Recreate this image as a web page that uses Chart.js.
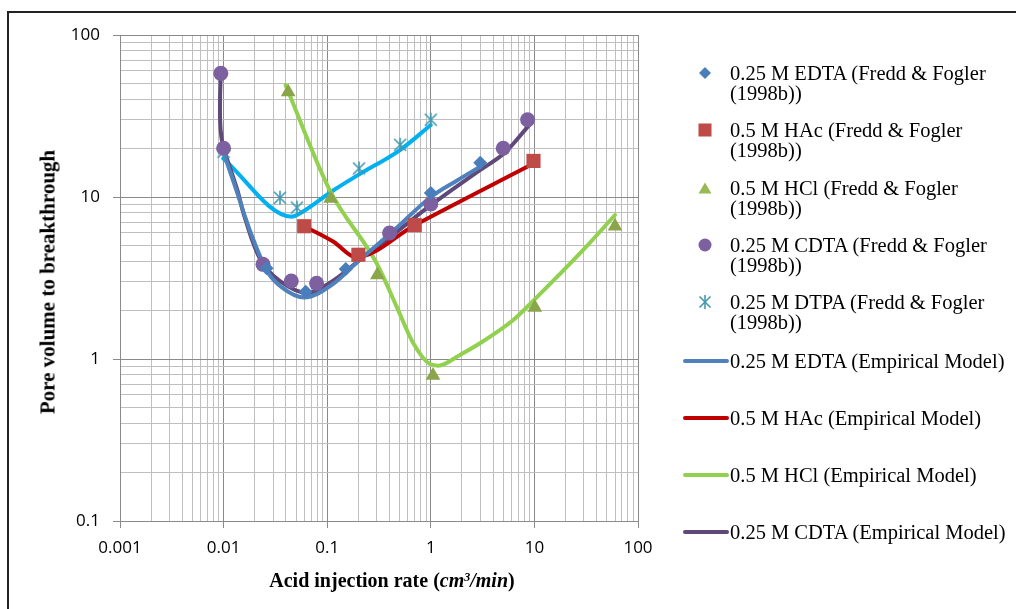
<!DOCTYPE html>
<html>
<head>
<meta charset="utf-8">
<script src="https://cdn.jsdelivr.net/npm/chart.js@4.4.0/dist/chart.umd.min.js"></script>
<style>
  body { margin: 0; background: #fff; }
  #wrap { position: relative; width: 1016px; height: 609px; overflow: hidden; background: #fff; }
  #frame { position: absolute; left: 7px; top: 11px; width: 1100px; height: 700px; border: 2px solid #222; }
  canvas { position: absolute; left: 0; top: 0; }
  .ttl { position: absolute; font-family: "Liberation Serif", "Times New Roman", serif; font-weight: bold; white-space: nowrap; color: #000; }
  #ytitle { left: 48px; top: 282px; font-size: 21px; transform: translate(-50%, -50%) rotate(-90deg); }
  #xtitle { left: 392px; top: 580px; font-size: 20px; transform: translate(-50%, -50%); }
  #xtitle sup { font-size: 0.6em; vertical-align: baseline; position: relative; top: -0.5em; }
  .leg { position: absolute; left: 730px; font-family: "Liberation Serif", "Times New Roman", serif; font-size: 20.5px; line-height: 20px; white-space: pre; color: #000; }
  .mk { position: absolute; }
</style>
</head>
<body>
<div id="wrap">
  <div id="frame"></div>
  <canvas id="chart" width="1016" height="609"></canvas>
  <div class="ttl" id="ytitle">Pore volume to breakthrough</div>
  <div class="ttl" id="xtitle">Acid injection rate (<i>cm<sup>3</sup>/min</i>)</div>
  <div id="legend"></div>
</div>
<script>
// tick labels (decades)
const xTickLabels = ["0.001", "0.01", "0.1", "1", "10", "100"];
const yTickLabels = ["0.1", "1", "10", "100"];

// experimental points, Fredd & Fogler (1998b)
const edtaX = [0.026, 0.062, 0.151, 1.0, 3.0];
const edtaY = [3.63, 2.6, 3.6, 10.6, 16.3];
const hacX = [0.06, 0.2, 0.7, 9.8];
const hacY = [6.6, 4.4, 6.7, 16.7];
const hclX = [0.042, 0.108, 0.305, 1.05, 10.1, 60];
const hclY = [44.5, 9.8, 3.3, 0.79, 2.08, 6.6];
const cdtaX = [0.0094, 0.01, 0.024, 0.045, 0.079, 0.40, 1.0, 5.0, 8.6];
const cdtaY = [58, 20, 3.84, 3.03, 2.93, 6.0, 9.05, 20, 30];
const dtpaX = [0.01, 0.035, 0.051, 0.203, 0.506, 1.0];
const dtpaY = [19, 9.9, 8.6, 15, 21, 30];

// empirical model curves
const edtaModelX = [0.0099, 0.0126, 0.0183, 0.0265, 0.036, 0.06, 0.116, 0.182, 0.443, 1.0, 1.81, 3.0];
const edtaModelY = [19, 12.2, 6.0, 3.46, 2.79, 2.4, 2.93, 3.8, 6.25, 10.0, 12.7, 15.4];
const hacModelX = [0.06, 0.115, 0.19, 0.7, 9.8];
const hacModelY = [6.6, 5.3, 4.25, 6.7, 16.1];
const hclModelX = [0.0397, 0.106, 0.30, 0.469, 0.678, 0.98, 1.18, 1.91, 2.98, 6.25, 9.9, 29.6, 60];
const hclModelY = [49, 11.0, 3.9, 2.1, 1.25, 0.93, 0.91, 1.06, 1.25, 1.74, 2.31, 4.71, 7.74];
const cdtaModelX = [0.0094, 0.00925, 0.00925, 0.0095, 0.01, 0.0136, 0.0159, 0.0228, 0.0356, 0.0645, 0.116, 0.245, 0.41, 1.0, 2.82, 5.1, 9.2];
const cdtaModelY = [58, 41.6, 30, 23.6, 20, 11.0, 7.56, 4.08, 3.0, 2.55, 3.07, 4.49, 5.7, 8.9, 14.3, 18.6, 28.5];
const dtpaModelX = [0.0099, 0.0454, 0.0549, 0.115, 0.2, 0.504, 1.0];
const dtpaModelY = [17.3, 7.56, 7.94, 11.0, 13.7, 19.5, 27.8];

const seriesNames = [
  "0.25 M EDTA (Fredd & Fogler\n(1998b))",
  "0.5 M HAc (Fredd & Fogler\n(1998b))",
  "0.5 M HCl (Fredd & Fogler\n(1998b))",
  "0.25 M CDTA (Fredd & Fogler\n(1998b))",
  "0.25 M DTPA (Fredd & Fogler\n(1998b))",
  "0.25 M EDTA (Empirical Model)",
  "0.5 M HAc (Empirical Model)",
  "0.5 M HCl (Empirical Model)",
  "0.25 M CDTA (Empirical Model)"
];

const pts = (xs, ys) => xs.map((x, i) => ({ x, y: ys[i] }));
const isDecade = v => Math.abs(Math.log10(v) - Math.round(Math.log10(v))) < 1e-6;
const labelFor = (v, labels) => labels.find(l => Math.abs(Number(l) - v) < 1e-9 * Math.max(1, v)) || "";

// 1..9 per decade for grid lines
function logGrid(labels) {
  const out = [];
  labels.map(Number).forEach((d, i, arr) => {
    if (i === arr.length - 1) { out.push(d); return; }
    for (let m = 1; m <= 9; m++) out.push(+(d * m).toPrecision(3));
  });
  return out;
}

// excel-like asterisk marker (x plus vertical bar)
function starMarker(color, size) {
  const c = document.createElement("canvas");
  c.width = size; c.height = size;
  const g = c.getContext("2d");
  g.strokeStyle = color; g.lineWidth = 1.6;
  const a = 2, b = size - 2, m = size / 2;
  g.beginPath();
  g.moveTo(a, a); g.lineTo(b, b);
  g.moveTo(b, a); g.lineTo(a, b);
  g.moveTo(m, 1); g.lineTo(m, size - 1);
  g.stroke();
  return c;
}

const COL = {
  edta: "#4A7EBB", hac: "#BE4B48", hcl: "#8AA54A", cdta: "#7D60A0", dtpa: "#4198AF",
  edtaL: "#4F81BD", hacL: "#C00000", hclL: "#92D050", cdtaL: "#5F497A", dtpaL: "#00B0F0"
};

const marker = (label, data, style, radius, color) => ({
  label, data, showLine: false, pointStyle: style, pointRadius: radius, pointHoverRadius: radius,
  pointBackgroundColor: color, pointBorderColor: color, pointBorderWidth: 0
});
const curve = (label, data, color, mono) => ({
  label, data, showLine: true, pointRadius: 0, borderColor: color, borderWidth: 4,
  tension: 0.35, cubicInterpolationMode: mono ? "monotone" : "default",
  borderCapStyle: "round", borderJoinStyle: "round", fill: false
});

const datasets = [
  marker(seriesNames[0], pts(edtaX, edtaY), "rectRot", 7, COL.edta),
  marker(seriesNames[1], pts(hacX, hacY), "rect", 10, COL.hac),
  marker(seriesNames[2], pts(hclX, hclY), "triangle", 8.5, COL.hcl),
  marker(seriesNames[3], pts(cdtaX, cdtaY), "circle", 7.5, COL.cdta),
  marker(seriesNames[4], pts(dtpaX, dtpaY), starMarker(COL.dtpa, 16), 8, COL.dtpa),
  curve(seriesNames[5], pts(edtaModelX, edtaModelY), COL.edtaL, true),
  curve(seriesNames[6], pts(hacModelX, hacModelY), COL.hacL, true),
  curve(seriesNames[7], pts(hclModelX, hclModelY), COL.hclL, true),
  curve(seriesNames[8], pts(cdtaModelX, cdtaModelY), COL.cdtaL, false),
  curve("0.25 M DTPA (Empirical Model)", pts(dtpaModelX, dtpaModelY), COL.dtpaL, true)
];

const tickFont = { family: "'Open Sans', 'Liberation Sans', sans-serif", size: 17 };
const gridColor = ctx => (ctx.tick && isDecade(ctx.tick.value)) ? "#8a8a8a" : "#bfbfbf";
const tickColor = ctx => (ctx.tick && isDecade(ctx.tick.value)) ? "#8a8a8a" : "rgba(0,0,0,0)";

new Chart(document.getElementById("chart"), {
  type: "scatter",
  data: { datasets },
  options: {
    responsive: false,
    devicePixelRatio: 1,
    animation: false,
    layout: { padding: { left: 50, right: 378, top: 35, bottom: 0 } },
    plugins: { legend: { display: false }, tooltip: { enabled: false } },
    scales: {
      x: {
        type: "logarithmic", min: 0.001, max: 100,
        afterBuildTicks: s => { s.ticks = logGrid(xTickLabels).map(v => ({ value: v })); },
        afterFit: s => { s.height = 88; },
        ticks: { autoSkip: false, maxRotation: 0, padding: 10, color: "#000", font: tickFont,
                 callback: v => labelFor(v, xTickLabels) },
        grid: { color: gridColor, tickColor: tickColor, tickLength: 7, lineWidth: 1 },
        border: { color: "#8a8a8a" }
      },
      y: {
        type: "logarithmic", min: 0.1, max: 100,
        afterBuildTicks: s => { s.ticks = logGrid(yTickLabels).map(v => ({ value: v })); },
        afterFit: s => { s.width = 70; },
        ticks: { autoSkip: false, padding: 13, color: "#000", font: tickFont,
                 callback: v => labelFor(v, yTickLabels) },
        grid: { color: gridColor, tickColor: tickColor, tickLength: 7, lineWidth: 1 },
        border: { color: "#8a8a8a" }
      }
    }
  }
});

// legend (html)
const legendMarks = [
  { kind: "diamond", color: COL.edta },
  { kind: "square", color: COL.hac },
  { kind: "triangle", color: "#98B954" },
  { kind: "circle", color: COL.cdta },
  { kind: "star", color: COL.dtpa },
  { kind: "line", color: COL.edtaL },
  { kind: "line", color: COL.hacL },
  { kind: "line", color: COL.hclL },
  { kind: "line", color: COL.cdtaL }
];

function markSvg(kind, color) {
  switch (kind) {
    case "diamond": return `<polygon points="8,2 14,8 8,14 2,8" fill="${color}"/>`;
    case "square": return `<rect x="1.5" y="1.5" width="13" height="13" fill="${color}"/>`;
    case "triangle": return `<polygon points="8,2.5 14.5,13.5 1.5,13.5" fill="${color}"/>`;
    case "circle": return `<circle cx="8" cy="8" r="6.5" fill="${color}"/>`;
    case "star": return `<g stroke="${color}" stroke-width="1.6"><line x1="2.5" y1="2.5" x2="13.5" y2="13.5"/><line x1="13.5" y1="2.5" x2="2.5" y2="13.5"/><line x1="8" y1="1" x2="8" y2="15"/></g>`;
  }
  return "";
}

const legend = document.getElementById("legend");
seriesNames.forEach((name, i) => {
  const mk = legendMarks[i];
  const cy = i < 5 ? 73.3 + i * 57.1 : 360.7 + (i - 5) * 57;
  const txt = document.createElement("div");
  txt.className = "leg";
  txt.style.top = (cy - 10) + "px";
  txt.textContent = name;
  legend.appendChild(txt);
  if (mk.kind === "line") {
    legend.insertAdjacentHTML("beforeend",
      `<svg class="mk" style="left:682px;top:${cy - 4}px" width="48" height="8"><line x1="3" y1="4" x2="45" y2="4" stroke="${mk.color}" stroke-width="4" stroke-linecap="round"/></svg>`);
  } else {
    legend.insertAdjacentHTML("beforeend",
      `<svg class="mk" style="left:697px;top:${cy - 8}px" width="16" height="16">${markSvg(mk.kind, mk.color)}</svg>`);
  }
});
</script>
</body>
</html>
